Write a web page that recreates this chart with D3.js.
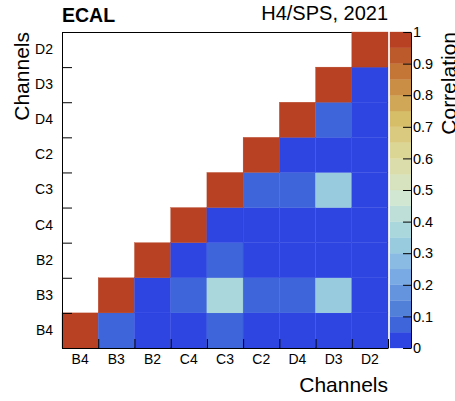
<!DOCTYPE html>
<html>
<head>
<meta charset="utf-8">
<script src="https://cdn.jsdelivr.net/npm/d3@7"></script>
<style>
  body { margin: 0; background: #fff; }
  svg { font-family: "Liberation Sans", Arial, sans-serif; }
</style>
</head>
<body>
<script>
// channel order, bottom-left to top-right
var channels = ["B4", "B3", "B2", "C4", "C3", "C2", "D4", "D3", "D2"];

// correlation rows (y channel), values along x channels; null = empty upper triangle
var rowB4 = [1, 0.08, 0.03, 0.02, 0.08, 0.02, 0.01, 0.02, 0.01];
var rowB3 = [null, 1, 0.03, 0.07, 0.38, 0.08, 0.08, 0.33, 0.02];
var rowB2 = [null, null, 1, 0.02, 0.07, 0.02, 0.01, 0.02, 0.01];
var rowC4 = [null, null, null, 1, 0.03, 0.02, 0.01, 0.02, 0.01];
var rowC3 = [null, null, null, null, 1, 0.08, 0.07, 0.32, 0.02];
var rowC2 = [null, null, null, null, null, 1, 0.02, 0.03, 0.01];
var rowD4 = [null, null, null, null, null, null, 1, 0.09, 0.02];
var rowD3 = [null, null, null, null, null, null, null, 1, 0.03];
var rowD2 = [null, null, null, null, null, null, null, null, 1];
var rows = [rowB4, rowB3, rowB2, rowC4, rowC3, rowC2, rowD4, rowD3, rowD2];

var zTicks = [0, 0.1, 0.2, 0.3, 0.4, 0.5, 0.6, 0.7, 0.8, 0.9, 1];
var nLevels = 20;

// ROOT kLightTemperature palette stops
var stopPos = [0, 0.125, 0.25, 0.375, 0.5, 0.625, 0.75, 0.875, 1];
var stopCol = [
  "rgb(31,40,234)", "rgb(71,117,214)", "rgb(123,171,228)", "rgb(160,211,222)",
  "rgb(210,231,210)", "rgb(222,220,160)", "rgb(214,190,105)", "rgb(199,132,60)",
  "rgb(183,65,34)"
];
var palette = d3.scaleLinear().domain(stopPos).range(stopCol);

function levelColor(i) {
  // mimic ROOT: contour i -> palette index of 255 colors
  var idx = Math.floor((i + 0.99) * 255 / nLevels);
  return palette(Math.min(idx, 254) / 254);
}
function valueColor(v) {
  var i = Math.min(nLevels - 1, Math.floor(v * nLevels));
  return levelColor(i);
}

var W = 455, H = 401;
var pLeft = 62, pRight = 388, pTop = 32, pBottom = 348;

var svg = d3.select("body").append("svg")
    .attr("width", W)
    .attr("height", H);

var x = d3.scaleBand().domain(channels).range([pLeft, pRight]).padding(0);
var y = d3.scaleBand().domain(channels).range([pBottom, pTop]).padding(0);
var xEdge = d3.scaleLinear().domain([0, channels.length]).range([pLeft, pRight]);
var yEdge = d3.scaleLinear().domain([0, channels.length]).range([pBottom, pTop]);

// frame (drawn under cells)
svg.append("rect")
    .attr("x", pLeft + 0.5).attr("y", pTop + 0.5)
    .attr("width", pRight - pLeft - 1).attr("height", pBottom - pTop - 1)
    .attr("fill", "none").attr("stroke", "#000").attr("stroke-width", 1);

// cells
var cells = [];
rows.forEach(function(r, yi) {
  r.forEach(function(v, xi) {
    if (v !== null) cells.push({x: channels[xi], y: channels[yi], v: v});
  });
});

svg.append("g").selectAll("rect")
    .data(cells)
    .enter()
    .append("rect")
    .attr("x", function(d) { return x(d.x); })
    .attr("y", function(d) { return y(d.y); })
    .attr("width", x.bandwidth())
    .attr("height", y.bandwidth())
    .attr("fill", function(d) { return valueColor(d.v); })
    .attr("stroke", function(d) { return valueColor(d.v); })
    .attr("stroke-width", 0.3);

// x axis: labels at centres, ticks at bin edges
var gx = svg.append("g")
    .attr("transform", "translate(0," + pBottom + ")")
    .call(d3.axisBottom(x).tickSize(0).tickPadding(6));
gx.select(".domain").remove();
gx.selectAll("text").attr("font-size", "14px").attr("fill", "#000")
    .style("font-family", "'Liberation Sans', Arial, sans-serif");

svg.append("g")
    .attr("transform", "translate(0," + pBottom + ")")
    .call(d3.axisBottom(xEdge).tickValues(d3.range(0, channels.length + 1))
      .tickSize(-9).tickSizeOuter(0).tickFormat(""))
    .selectAll("line,path").attr("stroke", "#000");

// y axis
var gy = svg.append("g")
    .attr("transform", "translate(" + pLeft + ",0)")
    .call(d3.axisLeft(y).tickSize(0).tickPadding(9));
gy.select(".domain").remove();
gy.selectAll("text").attr("font-size", "14px").attr("fill", "#000")
    .style("font-family", "'Liberation Sans', Arial, sans-serif");

svg.append("g")
    .attr("transform", "translate(" + pLeft + ",0)")
    .call(d3.axisLeft(yEdge).tickValues(d3.range(0, channels.length + 1))
      .tickSize(-10).tickSizeOuter(0).tickFormat(""))
    .selectAll("line,path").attr("stroke", "#000");

// colour bar
var zx0 = 390, zx1 = 411;
var z = d3.scaleLinear().domain([0, 1]).range([pBottom, pTop]);
var levels = d3.range(nLevels);
svg.append("g").selectAll("rect")
    .data(levels)
    .enter()
    .append("rect")
    .attr("x", zx0)
    .attr("y", function(i) { return z((i + 1) / nLevels); })
    .attr("width", zx1 - zx0)
    .attr("height", function(i) { return z(i / nLevels) - z((i + 1) / nLevels); })
    .attr("fill", function(i) { return levelColor(i); })
    .attr("stroke", function(i) { return levelColor(i); })
    .attr("stroke-width", 0.3);

var gz = svg.append("g")
    .attr("transform", "translate(" + zx1 + ",0)")
    .call(d3.axisRight(z).tickValues(zTicks).tickSize(-8).tickSizeOuter(0)
      .tickPadding(2).tickFormat(d3.format(".1~f")));
gz.selectAll("line,path").attr("stroke", "#000");
gz.selectAll("text").attr("font-size", "14.5px").attr("fill", "#000")
    .style("font-family", "'Liberation Sans', Arial, sans-serif");

// titles
svg.append("text")
    .attr("x", 62).attr("y", 22)
    .attr("font-size", "19.5px").attr("font-weight", "bold")
    .text("ECAL");

svg.append("text")
    .attr("x", 388).attr("y", 20)
    .attr("text-anchor", "end")
    .attr("font-size", "20px")
    .text("H4/SPS, 2021");

svg.append("text")
    .attr("x", 388).attr("y", 392)
    .attr("text-anchor", "end")
    .attr("font-size", "21px")
    .text("Channels");

svg.append("text")
    .attr("transform", "translate(29," + pTop + ") rotate(-90)")
    .attr("text-anchor", "end")
    .attr("font-size", "21px")
    .text("Channels");

svg.append("text")
    .attr("transform", "translate(456," + pTop + ") rotate(-90)")
    .attr("text-anchor", "end")
    .attr("font-size", "21px")
    .text("Correlation");
</script>
</body>
</html>
